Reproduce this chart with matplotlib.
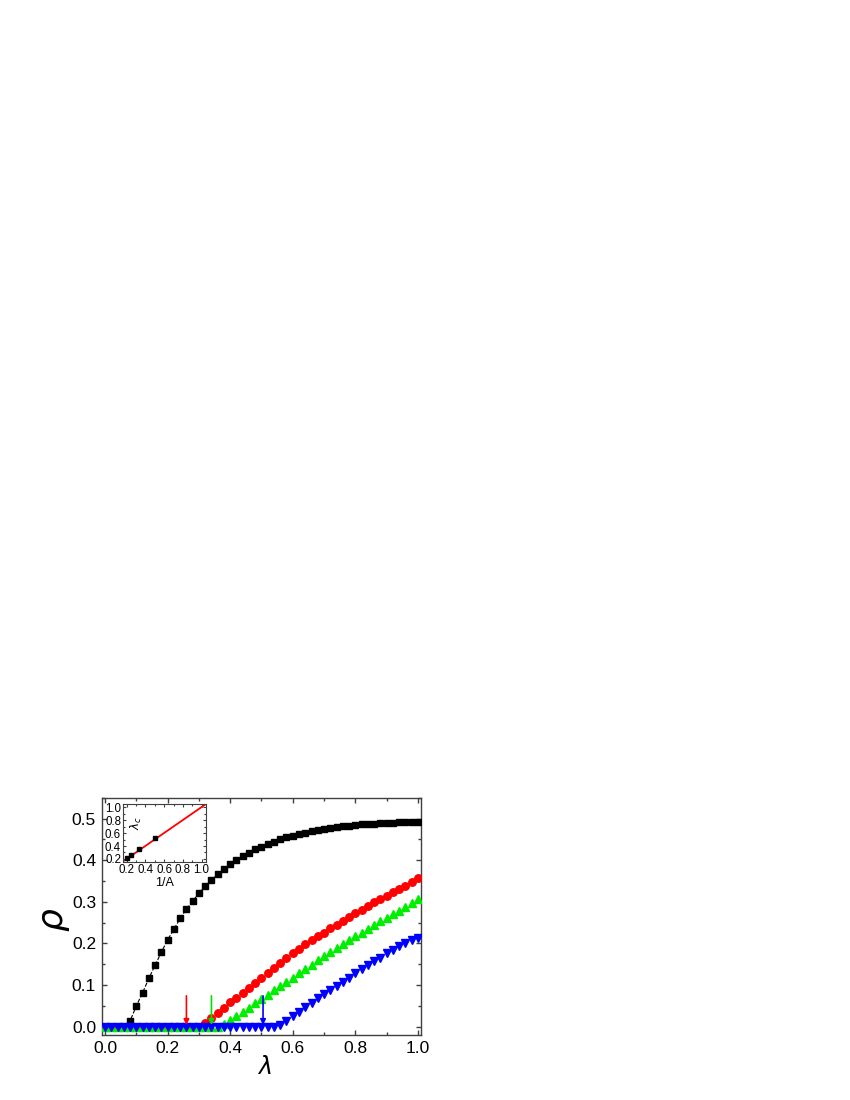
import numpy as np
import matplotlib
matplotlib.use("Agg")
import matplotlib.pyplot as plt
from matplotlib.ticker import MultipleLocator

plt.rcParams["font.family"] = ["Liberation Sans", "DejaVu Sans"]
plt.rcParams["mathtext.fontset"] = "dejavusans"

# ---- data ---------------------------------------------------------------
lam = [0.00, 0.02, 0.04, 0.06, 0.08, 0.10, 0.12, 0.14, 0.16, 0.18,
       0.20, 0.22, 0.24, 0.26, 0.28, 0.30, 0.32, 0.34, 0.36, 0.38,
       0.40, 0.42, 0.44, 0.46, 0.48, 0.50, 0.52, 0.54, 0.56, 0.58,
       0.60, 0.62, 0.64, 0.66, 0.68, 0.70, 0.72, 0.74, 0.76, 0.78,
       0.80, 0.82, 0.84, 0.86, 0.88, 0.90, 0.92, 0.94, 0.96, 0.98, 1.00]

rho_black = [0, 0, 0, 0, 0.014, 0.050, 0.082, 0.116, 0.148, 0.179,
             0.209, 0.234, 0.260, 0.282, 0.302, 0.320, 0.338, 0.352, 0.366, 0.378,
             0.390, 0.400, 0.410, 0.418, 0.426, 0.432, 0.438, 0.444, 0.450, 0.455,
             0.459, 0.463, 0.466, 0.470, 0.473, 0.475, 0.478, 0.480, 0.482, 0.483,
             0.485, 0.486, 0.487, 0.488, 0.489, 0.490, 0.490, 0.491, 0.491, 0.491, 0.491]

rho_red = [0, 0, 0, 0, 0, 0, 0, 0, 0, 0,
           0, 0, 0, 0, 0, 0, 0.008, 0.020, 0.033, 0.046,
           0.059, 0.070, 0.082, 0.094, 0.106, 0.118, 0.130, 0.141, 0.153, 0.164,
           0.176, 0.187, 0.198, 0.208, 0.217, 0.226, 0.236, 0.245, 0.254, 0.263,
           0.272, 0.281, 0.290, 0.299, 0.307, 0.315, 0.323, 0.331, 0.339, 0.347, 0.356]

rho_green = [0, 0, 0, 0, 0, 0, 0, 0, 0, 0,
             0, 0, 0, 0, 0, 0, 0, 0, 0, 0.006,
             0.016, 0.026, 0.036, 0.046, 0.056, 0.066, 0.077, 0.087, 0.098, 0.108,
             0.118, 0.128, 0.139, 0.149, 0.159, 0.169, 0.179, 0.189, 0.198, 0.208,
             0.217, 0.226, 0.235, 0.244, 0.253, 0.262, 0.271, 0.279, 0.288, 0.297, 0.307]

rho_blue = [0, 0, 0, 0, 0, 0, 0, 0, 0, 0,
            0, 0, 0, 0, 0, 0, 0, 0, 0, 0,
            0, 0, 0, 0, 0, 0, 0, 0, 0.004, 0.014,
            0.025, 0.036, 0.047, 0.058, 0.068, 0.078, 0.088, 0.098, 0.108, 0.118,
            0.128, 0.138, 0.147, 0.157, 0.166, 0.176, 0.185, 0.194, 0.202, 0.208, 0.212]

# critical points marked by arrows (red, green, blue)
arrow_lam = [0.26, 0.34, 0.505]
arrow_colors = ["#ff0000", "#00e000", "#0000ff"]
arrow_top, arrow_tip = 0.074, 0.004

# inset: lambda_c vs 1/A and the linear fit
inv_A = [0.2, 0.25, 0.333, 0.5]
lam_c = [0.21, 0.262, 0.355, 0.53]
fit_x = [0.15, 1.05]
fit_y = [0.152, 1.055]
# -------------------------------------------------------------------------

SPINE = "#404040"


def style_axes(ax, major_len, minor_len, width):
    for s in ax.spines.values():
        s.set_color(SPINE)
        s.set_linewidth(width)
    ax.tick_params(which="both", direction="in", top=True, right=True,
                   color=SPINE, width=width)
    ax.tick_params(which="major", length=major_len)
    ax.tick_params(which="minor", length=minor_len)


fig = plt.figure(figsize=(8.5, 11), dpi=100)
ax = fig.add_axes([0.1196, 0.0591, 0.3753, 0.2157])

ax.plot(lam, rho_black, ls="--", lw=0.8, color="black", marker="s",
        ms=5.0, mec="black", mfc="black", zorder=3)
ax.plot(lam, rho_red, ls="none", marker="o", ms=5.4, color="#ff0000", zorder=4)
ax.plot(lam, rho_green, ls="none", marker="^", ms=6.0, color="#00ee00", zorder=5)
ax.plot(lam, rho_blue, ls="none", marker="v", ms=6.0, color="#0000ff", zorder=6)

for x, c in zip(arrow_lam, arrow_colors):
    ax.annotate("", xy=(x, arrow_tip), xytext=(x, arrow_top),
                arrowprops=dict(arrowstyle="-|>", color=c, lw=1.2,
                                mutation_scale=8, shrinkA=0, shrinkB=0),
                zorder=7)

ax.set_xlim(-0.011, 1.009)
ax.set_ylim(-0.02, 0.55)
ax.xaxis.set_major_locator(MultipleLocator(0.2))
ax.xaxis.set_minor_locator(MultipleLocator(0.1))
ax.yaxis.set_major_locator(MultipleLocator(0.1))
ax.yaxis.set_minor_locator(MultipleLocator(0.05))
ax.set_xticklabels([f"{v:.1f}" for v in ax.get_xticks()])
ax.set_yticklabels([f"{v:.1f}" for v in ax.get_yticks()])
style_axes(ax, 3.6, 2.0, 1.0)
ax.tick_params(which="major", labelsize=12.5, pad=4)
ax.set_xlabel(r"$\lambda$", fontsize=17)
ax.set_ylabel(r"$\rho$", fontsize=26)
ax.xaxis.set_label_coords(0.509, -0.088)
ax.yaxis.set_label_coords(-0.094, 0.485)

# inset
axin = fig.add_axes([0.1444, 0.2161, 0.098, 0.0530])
axin.plot(fit_x, fit_y, color="#ff0000", lw=1.3, zorder=2)
axin.plot(inv_A, lam_c, ls="none", marker="s", ms=3.4, color="black", zorder=3)
axin.set_xlim(0.157, 1.047)
axin.set_ylim(0.148, 1.052)
axin.xaxis.set_major_locator(MultipleLocator(0.2))
axin.xaxis.set_minor_locator(MultipleLocator(0.1))
axin.yaxis.set_major_locator(MultipleLocator(0.2))
axin.yaxis.set_minor_locator(MultipleLocator(0.1))
style_axes(axin, 2.0, 1.2, 0.8)
axin.tick_params(which="major", labelsize=8.3, pad=1.2)
axin.set_xlabel("1/A", fontsize=9, labelpad=0.5)
axin.text(0.17, 0.67, r"$\lambda_c$", transform=axin.transAxes, rotation=90,
          fontsize=8.5, ha="center", va="center")

fig.savefig("out.png", dpi=100)
